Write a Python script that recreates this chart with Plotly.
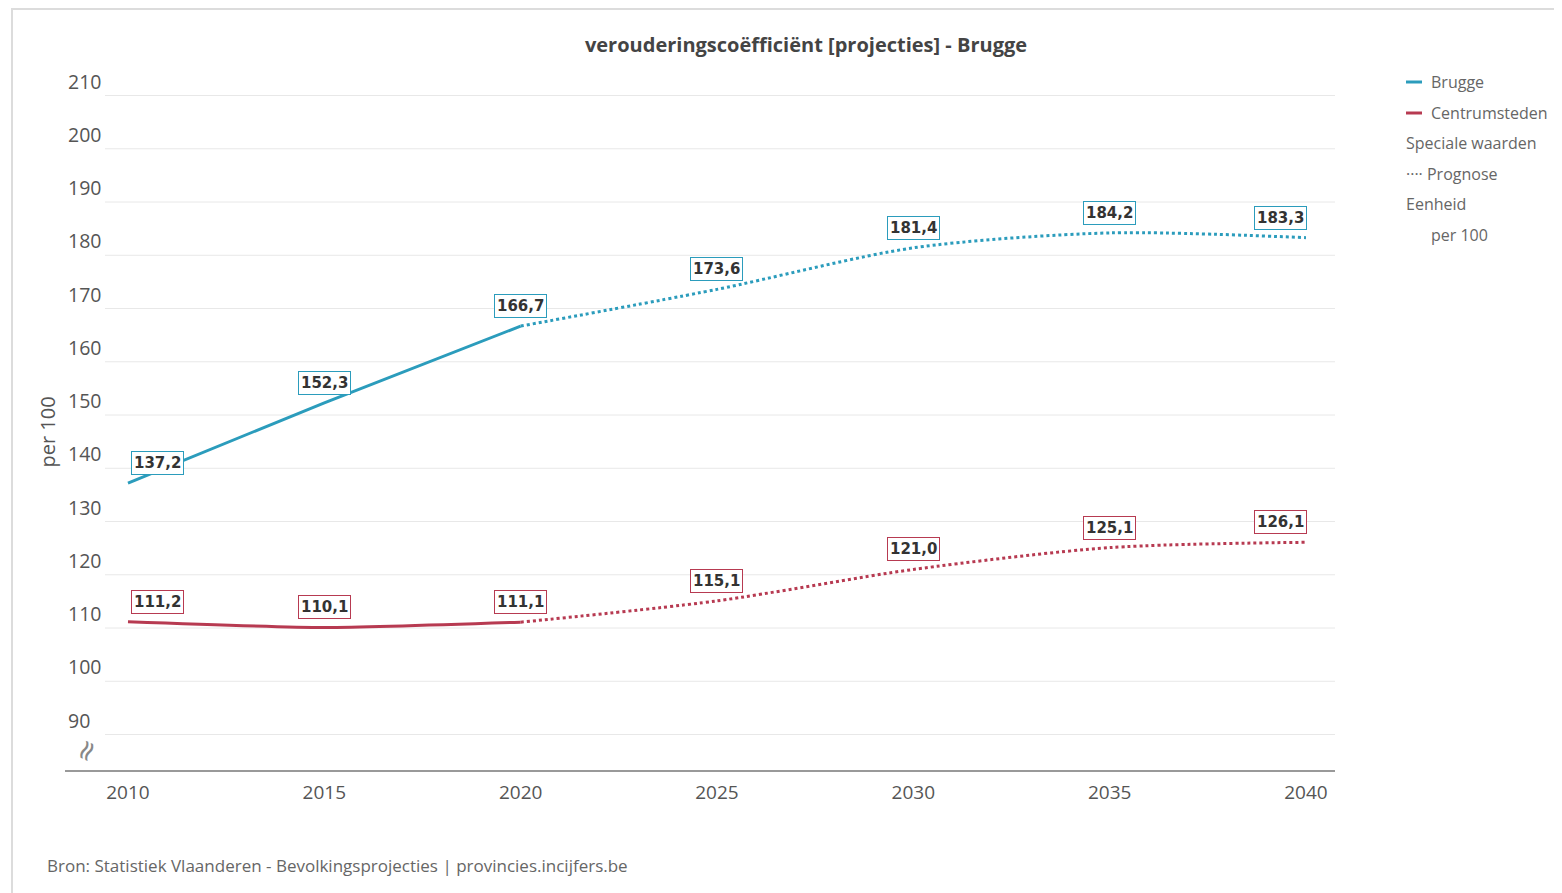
import plotly.graph_objects as go

# --- data ---
years = [2010, 2015, 2020, 2025, 2030, 2035, 2040]
brugge = [137.2, 152.3, 166.7, 173.6, 181.4, 184.2, 183.3]
centrum = [111.2, 110.1, 111.1, 115.1, 121.0, 125.1, 126.1]
last_observed = 2020
y_ticks = [90, 100, 110, 120, 130, 140, 150, 160, 170, 180, 190, 200, 210]

BLUE = "#2b9cbc"
RED = "#b73a51"
FONT = "Open Sans"

# page geometry in page px (the browser adds an 8px body margin)
OFF = 8
W, H = 1562 - OFF, 893 - OFF
PL, PR, PT, PB = 65, 1335, 60, 771  # plot area edges on the page


def px_x(p):
    return (p - PL) / (PR - PL)


def px_y(p):
    return (PB - p) / (PB - PT)


def fmt(v):
    return f"{v:.1f}".replace(".", ",")


fig = go.Figure()

for name, vals, col in [("Brugge", brugge, BLUE), ("Centrumsteden", centrum, RED)]:
    k = years.index(last_observed)
    fig.add_trace(go.Scatter(x=years[:k + 1], y=vals[:k + 1], mode="lines", name=name,
                             line=dict(color=col, width=3, shape="spline", smoothing=0.6)))
    fig.add_trace(go.Scatter(x=years[k:], y=vals[k:], mode="lines", name=name + " prognose",
                             line=dict(color=col, width=3, dash="dot", shape="spline", smoothing=0.8)))
    for i, (x, v) in enumerate(zip(years, vals)):
        xs = 30 if i == 0 else (-25 if i == len(years) - 1 else 0)
        fig.add_annotation(x=x, y=v, text="<b>" + fmt(v) + "</b>", showarrow=False,
                           xshift=xs, yshift=20, bgcolor="white", bordercolor=col,
                           borderwidth=1, borderpad=2,
                           font=dict(family="DejaVu Sans", size=15, color="#333"))

# gridlines (start right of the tick labels)
for t in y_ticks:
    fig.add_shape(type="line", xref="paper", yref="y", x0=px_x(105), x1=1, y0=t, y1=t,
                  line=dict(color="#e8e8e8", width=1), layer="below")

# bottom axis line
fig.add_shape(type="line", xref="paper", yref="paper", x0=0, x1=1, y0=0, y1=0,
              line=dict(color="#999", width=2))

# card frame
fig.add_shape(type="rect", xref="paper", yref="paper", x0=px_x(12), x1=px_x(1600),
              y0=px_y(900), y1=px_y(9), line=dict(color="#dcdcdc", width=2), layer="below")

# axis break sign
fig.add_annotation(xref="paper", yref="paper", x=px_x(64), y=px_y(771), text="≈",
                   textangle=-65, showarrow=False, font=dict(family="DejaVu Sans", size=28, color="#888"))

# legend
for ly, col in [(82, BLUE), (113, RED)]:
    fig.add_shape(type="line", xref="paper", yref="paper", x0=px_x(1406), x1=px_x(1422),
                  y0=px_y(ly), y1=px_y(ly), line=dict(color=col, width=3))
leg = [
    (1429, 82, "Brugge"),
    (1429, 113, "Centrumsteden"),
    (1404, 143, "Speciale waarden"),
    (1404, 174, "···· Prognose"),
    (1404, 204, "Eenheid"),
    (1429, 235, "per 100"),
]
for lx, ly, txt in leg:
    fig.add_annotation(xref="paper", yref="paper", x=px_x(lx), y=px_y(ly), text=txt,
                       showarrow=False, xanchor="left", yanchor="middle",
                       font=dict(family=FONT, size=16, color="#666"))

# source
fig.add_annotation(xref="paper", yref="paper", x=px_x(45), y=px_y(865),
                   text="Bron: Statistiek Vlaanderen - Bevolkingsprojecties | provincies.incijfers.be",
                   showarrow=False, xanchor="left", yanchor="middle",
                   font=dict(family=FONT, size=17, color="#666"))

# y axis title
fig.add_annotation(xref="paper", yref="paper", x=px_x(31), y=px_y(432), text="per 100",
                   textangle=-90, showarrow=False, font=dict(family=FONT, size=20, color="#555"))

fig.update_layout(
    width=W, height=H,
    margin=dict(l=PL - OFF, r=W + OFF - PR, t=PT - OFF, b=H + OFF - PB),
    paper_bgcolor="white", plot_bgcolor="white",
    title=dict(text="<b>verouderingscoëfficiënt [projecties] - Brugge</b>",
               x=px_x(806), xref="paper", xanchor="center", y=1 - (45 - OFF) / H, yanchor="middle",
               font=dict(family=FONT, size=20, color="#444")),
    font=dict(family=FONT, color="#555"),
    showlegend=False,
)
fig.update_xaxes(range=[2008.396, 2040.739], tickvals=years, showgrid=False, zeroline=False,
                 showline=False, ticks="", ticklabelstandoff=8, tickfont=dict(size=19, color="#555"))
fig.update_yaxes(range=[83.15, 216.67], tickvals=y_ticks, showgrid=False, zeroline=False,
                 showline=False, ticks="", ticklabelposition="inside top",
                 tickfont=dict(size=19.5, color="#555"))

fig.write_html("out.html")
